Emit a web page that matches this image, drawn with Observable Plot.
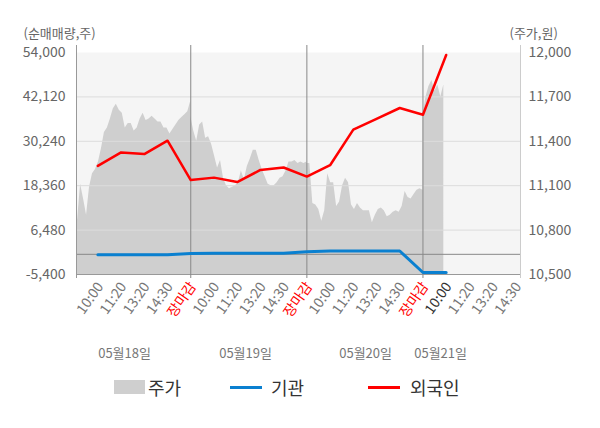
<!DOCTYPE html>
<html>
<head>
<meta charset="utf-8">
<script src="https://cdn.jsdelivr.net/npm/d3@7"></script>
<script src="https://cdn.jsdelivr.net/npm/@observablehq/plot@0.6"></script>
<style>
  body { margin: 0; background: #fff; font-family: "Noto Sans CJK KR", "Noto Sans", sans-serif; }
  #wrap { position: relative; width: 600px; height: 428px; }
  .leg { position: absolute; top: 374px; height: 26px; display: flex; align-items: center; font-size: 18px; color: #333; }
  .sw { display: inline-block; margin-right: 3px; }
</style>
</head>
<body>
<div id="wrap">
  <div id="chart"></div>
  <div class="leg" style="left:114px"><span class="sw" style="width:31px;height:14px;background:#cfcfcf"></span>주가</div>
  <div class="leg" style="left:230px"><span class="sw" style="width:32px;height:3px;background:#0a80d0;margin-right:9px"></span>기관</div>
  <div class="leg" style="left:368px"><span class="sw" style="width:32px;height:3px;background:#ff0000;margin-right:10px"></span>외국인</div>
</div>
<script>
// ---- data ----
const dates = ["05월18일", "05월19일", "05월20일", "05월21일"];
const dateAt = [2.15, 7.36, 12.53, 15.76];
const slotLabels = ["10:00", "11:20", "13:20", "14:30", "장마감"];
const yTicks = [-5400, 6480, 18360, 30240, 42120, 54000];
const priceTicks = [10500, 10800, 11100, 11400, 11700, 12000];

// 주가 (won), sampled evenly through each session
const priceDay1 = [11090,10870,11110,11010,10900,11090,11180,11210,11260,11350,11460,11490,11550,11620,11650,11610,11590,11490,11520,11520,11470,11490,11550,11590,11540,11550,11570,11550,11530,11530,11490,11490,11450,11480,11510,11540,11560,11580,11600,11670];
const priceDay2 = [11570,11470,11400,11510,11530,11420,11430,11380,11300,11220,11270,11150,11100,11080,11090,11100,11120,11200,11140,11230,11280,11340,11340,11270,11210,11160,11110,11100,11100,11120,11150,11160,11200,11260,11260,11270,11250,11260,11250,11260];
const priceDay3 = [11250,11250,10980,10970,10940,10860,10930,11180,11120,11120,10960,10990,11100,11150,11120,10970,10940,10980,10950,10930,10930,10930,10850,10900,10940,10950,10930,10890,10900,10920,10930,10920,10960,11060,11020,11010,11040,11070,11080,11070];
const priceDay4 = [11570,11700,11770,11810,11740,11780,11700,11780];

// 순매매량 (shares) at 10:00, 11:20, 13:20, 14:30, 장마감 of each day
const foreign = [23650,27270,26810,30400,19870, 20520,19330,22570,23220,20790, 23840,33370,36260,39150,37340, 53350];
const institution = [-100,-100,-100,-100,200, 270,270,270,270,700, 890,890,890,890,-4860, -4860];

// ---- derived tables ----
const SAMPLES = 40;
const pMin = 10500, pMax = 12000, vMin = -5400, vMax = 54000;
const toVol = p => vMin + (p - pMin) * (vMax - vMin) / (pMax - pMin);
const toPrice = v => pMin + (v - vMin) * (pMax - pMin) / (vMax - vMin);

const priceRows = [];
[priceDay1, priceDay2, priceDay3, priceDay4].forEach((arr, d) => {
  arr.forEach((p, i) => priceRows.push({x: d * 5 + i * 5 / (SAMPLES - 1), v: toVol(p)}));
});
const foreignRows = foreign.map((v, i) => ({x: i + 1, v}));
const instRows = institution.map((v, i) => ({x: i + 1, v}));
const tickRows = [];
for (let d = 0; d < 4; d++) for (let k = 0; k < 5; k++) {
  const x = d * 5 + k + 1;
  if (x <= 19) tickRows.push({x, label: slotLabels[k], day: d, k});
}
const dateRows = dates.map((t, i) => ({x: dateAt[i], t}));
const fmt = v => Math.round(v).toLocaleString("en-US");

const chart = Plot.plot({
  width: 600, height: 370,
  marginTop: 52, marginLeft: 76, marginRight: 80, marginBottom: 96,
  style: {fontFamily: "'Noto Sans CJK KR', 'Noto Sans', sans-serif", fontSize: "14px", background: "#fff", color: "#666"},
  x: {domain: [0.08, 19.2], axis: null},
  y: {domain: [vMin, vMax], label: null},
  marks: [
    Plot.frame({fill: "#f5f5f5", stroke: "none"}),
    Plot.areaY(priceRows, {x: "x", y1: vMin, y2: "v", fill: "#cfcfcf", clip: true}),
    Plot.ruleY(yTicks.slice(1, -1), {stroke: "#dcdcdc", strokeWidth: 1}),
    Plot.ruleY([0], {stroke: "#888", strokeWidth: 1}),
    Plot.ruleY([vMin], {stroke: "#999", strokeWidth: 1}),
    Plot.ruleX([5, 10, 15], {stroke: "#888", strokeWidth: 1, insetTop: -7, insetBottom: -4}),
    Plot.ruleX([0.08], {stroke: "#999", strokeWidth: 1, insetTop: -7, insetBottom: -4}),
    Plot.ruleX([19.2], {stroke: "#ccc", strokeWidth: 1, insetTop: -7, insetBottom: -4}),
    Plot.line(instRows, {x: "x", y: "v", stroke: "#0a80d0", strokeWidth: 3}),
    Plot.line(foreignRows, {x: "x", y: "v", stroke: "#ff0000", strokeWidth: 2.5}),
    Plot.axisY({anchor: "left", ticks: yTicks, tickSize: 0, tickPadding: 11, tickFormat: fmt, fill: "#666", fontSize: 14, label: null}),
    Plot.axisY({anchor: "right", ticks: yTicks, tickSize: 0, tickPadding: 8, tickFormat: v => fmt(toPrice(v)), fill: "#666", fontSize: 14, label: null}),
    Plot.text(["(순매매량,주)"], {frameAnchor: "top-left", textAnchor: "start", lineAnchor: "middle", dx: -53, dy: -19, fill: "#666", fontSize: 13}),
    Plot.text(["(주가,원)"], {frameAnchor: "top-right", textAnchor: "start", lineAnchor: "middle", dx: -11, dy: -19, fill: "#666", fontSize: 13}),
    Plot.text(tickRows, {x: "x", text: "label", frameAnchor: "bottom", rotate: -55, textAnchor: "end", dx: 6, dy: 12, fontSize: 14,
      fill: d => d.k === 4 ? "#ff0000" : (d.day === 3 && d.k === 0 ? "#333" : "#777")}),
    Plot.text(dateRows, {x: "x", text: "t", frameAnchor: "bottom", lineAnchor: "middle", dy: 79, fill: "#777", fontSize: 13})
  ]
});
document.getElementById("chart").appendChild(chart);
</script>
</body>
</html>
